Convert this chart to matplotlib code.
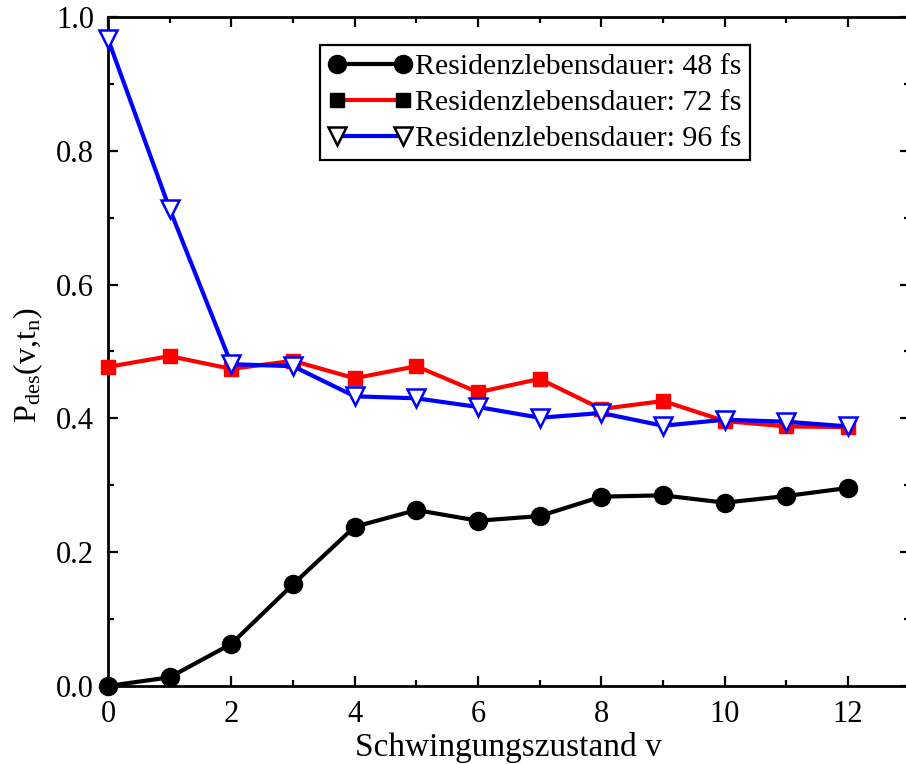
import numpy as np
import matplotlib
matplotlib.use("Agg")
import matplotlib.pyplot as plt
from matplotlib.lines import Line2D
from matplotlib.ticker import MultipleLocator, FormatStrFormatter

plt.rcParams['font.family'] = ['Liberation Serif', 'DejaVu Serif']
plt.rcParams['mathtext.fontset'] = 'custom'
plt.rcParams['mathtext.rm'] = 'Liberation Serif'
plt.rcParams['mathtext.it'] = 'Liberation Serif:italic'

# Schwingungszustaende und Desorptionswahrscheinlichkeiten
v = np.arange(13)
p_48fs = [0.0, 0.013, 0.063, 0.152, 0.238, 0.263, 0.247, 0.254, 0.283, 0.285, 0.274, 0.284, 0.296]
p_72fs = [0.477, 0.493, 0.474, 0.486, 0.460, 0.478, 0.439, 0.459, 0.414, 0.426, 0.396, 0.388, 0.387]
p_96fs = [0.967, 0.713, 0.481, 0.478, 0.433, 0.430, 0.417, 0.401, 0.408, 0.389, 0.398, 0.395, 0.388]
labels = ["Residenzlebensdauer: 48 fs", "Residenzlebensdauer: 72 fs", "Residenzlebensdauer: 96 fs"]

fig = plt.figure(figsize=(9.06, 7.64), dpi=100)
ax = fig.add_axes([0.1192, 0.1021, 0.8849, 0.8757])

ax.plot(v, p_48fs, color='black', lw=3, marker='o', ms=13, clip_on=False, zorder=3)
ax.plot(v, p_72fs, color='red', lw=3, marker='s', ms=10.5, clip_on=False, zorder=3)
ax.plot(v, p_96fs, color='blue', lw=3, marker='v', ms=13, mfc='white',
        mec='blue', mew=1.8, clip_on=False, zorder=4)

ax.set_xlim(0, 13)
ax.set_ylim(0, 1.0)
ax.xaxis.set_major_locator(MultipleLocator(2))
ax.xaxis.set_minor_locator(MultipleLocator(1))
ax.yaxis.set_major_locator(MultipleLocator(0.2))
ax.yaxis.set_minor_locator(MultipleLocator(0.1))
ax.xaxis.set_major_formatter(FormatStrFormatter('%d'))
ax.yaxis.set_major_formatter(FormatStrFormatter('%.1f'))
ax.tick_params(which='both', direction='in', top=True, right=True, width=1.6, labelsize=22)
ax.tick_params(which='major', length=7)
ax.tick_params(which='minor', length=4)
ax.tick_params(axis='y', pad=10)
ax.tick_params(axis='x', pad=10)
for s in ax.spines.values():
    s.set_linewidth(2)

ax.set_xlabel('Schwingungszustand v', fontsize=24, labelpad=2)
ax.set_ylabel(r'$\mathrm{P_{des}(v{,}t_n)}$', fontsize=23)
ax.yaxis.set_label_coords(-0.078, 0.48)

# Legende mit schwarzen Symbolen
handles = [
    Line2D([], [], color='black', lw=3, marker='o', ms=13),
    Line2D([], [], color='red', lw=3, marker='s', ms=10.5, mfc='black', mec='black'),
    Line2D([], [], color='blue', lw=3, marker='v', ms=13, mfc='white', mec='black', mew=1.8),
]
leg = ax.legend(handles, labels, loc='upper left', bbox_to_anchor=(0.2644, 0.958),
                numpoints=2, fontsize=21.5, handlelength=2.8, handletextpad=0.1,
                labelspacing=0.3, borderpad=0.28, borderaxespad=0, fancybox=False,
                framealpha=1)
leg.get_frame().set_edgecolor('black')
leg.get_frame().set_linewidth(1.6)

fig.savefig('out.png', dpi=100)
